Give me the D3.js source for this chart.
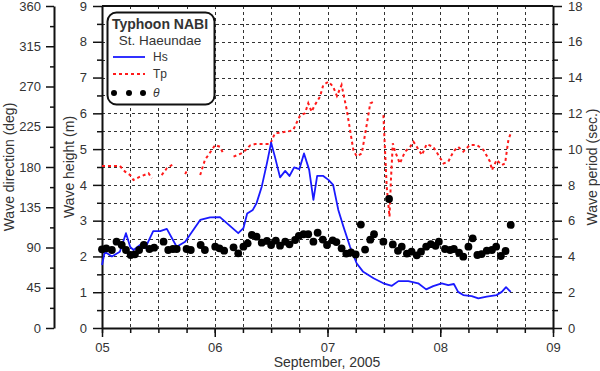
<!DOCTYPE html>
<html>
<head>
<meta charset="utf-8">
<script src="https://cdn.jsdelivr.net/npm/d3@7"></script>
<style>
  body { margin: 0; background: #fff; }
  text { font-family: "Liberation Sans", Arial, sans-serif; fill: #333; }
</style>
</head>
<body>
<script>
// hours after 2005-09-05 00:00
const hsHours = [0, 0.6, 2.1, 3.8, 5.1, 6, 6.7, 8.1, 9.2, 10.9, 12.4, 13.8, 15.9, 17.7, 20.9, 23, 25.1, 29, 30.1, 30.9,
  32.1, 32.9, 34, 35.1, 36, 36.8, 37.9, 39, 39.9, 40.9, 42, 43, 44.1, 45, 45.8, 47.1, 48.2, 49.2, 50.3, 51.4,
  52.8, 54.2, 55.6, 57.8, 59.9, 61.7, 63.1, 65.2, 67.3, 69, 70.5, 72.3, 73.7, 74.9, 75.8, 76.9, 78.7, 80.1, 81.9, 84,
  85.1, 86, 87];
const hsValues = [1.76, 2.13, 2.0, 2.13, 2.65, 2.27, 2.18, 2.32, 2.23, 2.71, 2.71, 2.77, 2.27, 2.41, 3.02, 3.09, 3.1, 2.65, 2.79, 3.2,
  3.3, 3.49, 3.95, 4.6, 5.18, 4.79, 4.21, 4.39, 4.25, 4.49, 4.44, 4.88, 4.42, 3.58, 4.25, 4.25, 4.14, 4.0, 3.3, 2.83,
  2.27, 1.81, 1.57, 1.39, 1.25, 1.18, 1.31, 1.31, 1.25, 1.08, 1.17, 1.25, 1.2, 1.23, 1.01, 0.92, 0.89, 0.83, 0.88, 0.92,
  1.01, 1.14, 1.01];

// null = missing record (gap in the dotted line)
const tpHours = [0, 3.8, 4.9, 6, 6.7, 8.1, 9.9, 10.6, 11.5, 12.7, 13.8, 15.1, 16.3, 17.7, 18.2, 19.5, 20.9, 21.9, 24.1, 25.1,
  25.8, 26.9, 28, 30, 31.5, 32.6, 35.8, 36.8, 40, 40.7, 42.2, 43.2, 43.9, 44.6, 45.3, 46.4, 47.1, 48.2, 49.2, 50,
  51, 52.1, 53.5, 54.2, 55.3, 56.4, 57.1, 57.8, 58.8, 59.9, 60.6, 61.2, 61.5, 61.9, 62.4, 63.4, 64.5, 65.6, 66.3, 67,
  68.1, 69.1, 70.5, 71.6, 72.7, 73.7, 74.8, 75.8, 76.9, 78.3, 79.8, 81.2, 82.6, 83, 84, 85.1, 85.8, 86.5, 87];
const tpValues = [9.06, 9.06, 8.74, 8.55, 8.27, 8.46, 8.65, 8.37, null, 8.55, 8.93, 9.15, null, 8.6, 8.85, null, 8.55, 9.39, 10.23, 10.13,
  9.76, null, 9.58, 9.8, 10.2, 10.28, 10.28, 10.88, 11.01, 11.07, 11.9, 12.0, 12.56, 12.09, 12.46, 12.93, 13.58, 13.77, 13.49, 12.97,
  13.58, 12.19, 9.95, 9.6, 9.76, 11.44, 12.56, 12.65, null, 11.9, 7.9, 6.22, 8.27, 10.32, 9.86, 9.2, 9.86, 10.13, 10.41, 10.13,
  9.67, 10.28, 10.13, 9.67, 9.2, 9.3, 9.86, 10.13, 9.86, 10.23, 10.23, 9.95, 9.3, 8.83, 9.39, 9.11, 9.2, 10.51, 10.88];

const dirHours = [0, 0.9, 2.1, 3.1, 4.2, 5.1, 6.1, 7, 7.9, 8.9, 10.1, 11.1, 13.1, 14.1, 15.1, 15.9, 18, 18.9, 21, 21.9,
  24.1, 25, 26, 28, 29, 30.1, 31, 31.9, 32.9, 34, 35.1, 36, 37, 37.9, 39, 39.9, 41.1, 41.9, 42.9, 43.9,
  45, 45.9, 47, 47.9, 49.1, 49.9, 51, 52, 53, 54, 55.1, 56, 57.1, 57.9, 59.9, 61.1, 61.9, 63, 63.8, 64.9,
  65.9, 67, 67.9, 69, 70, 71, 71.7, 73, 74.1, 74.9, 76, 76.9, 78, 78.9, 79.9, 80.8, 81.9, 83, 83.9, 84.9,
  85.9, 87];
const dirValues = [88, 89.1, 87.2, 96.5, 92.8, 87.2, 81.6, 82.4, 87.2, 92.8, 88.3, 89.8, 96.5, 87.2, 88.3, 88.3, 88.3, 87.2, 92.8, 87.2,
  90.9, 89.1, 86.4, 90.2, 83.5, 90.9, 94.7, 104, 102.1, 95.4, 97.3, 92.8, 97.6, 92, 96.5, 93.6, 98.4, 102.9, 104.8, 104.8,
  96.5, 106.5, 98.9, 92.8, 98, 96.1, 89.1, 83.1, 84.4, 82.2, 115.6, 87.7, 98.8, 104.8, 96.5, 144.2, 93.4, 86.3, 90.9, 83.1,
  85.3, 81.3, 85.3, 90.9, 93.7, 91.9, 96.5, 88.3, 87.2, 88.3, 84.2, 79.7, 90.9, 100.3, 81.6, 82.7, 86.4, 87.2, 90.9, 80.5,
  86.1, 115.2];

const dirTicks = d3.range(0, 361, 45);
const hsTicks = d3.range(0, 10, 1);
const tpTicks = d3.range(0, 19, 2);
const legendTitle = ['Typhoon NABI', 'St. Haeundae'];
const legendNames = ['Hs', 'Tp', 'θ'];

const width = 600;
const height = 371;
const m = { left: 102, right: 553, top: 6, bottom: 328 };
const t0 = new Date(2005, 8, 5);
const toDate = (h) => d3.timeMinute.offset(t0, Math.round(h * 60));

const x = d3.scaleTime().domain([t0, new Date(2005, 8, 9)]).range([m.left, m.right]);
const yH = d3.scaleLinear().domain([0, 9]).range([m.bottom, m.top]);
const yT = d3.scaleLinear().domain([0, 18]).range([m.bottom, m.top]);
const yD = d3.scaleLinear().domain([0, 360]).range([m.bottom, m.top]);

const svg = d3.select('body').append('svg').attr('width', width).attr('height', height);

// grid
const grid = svg.append('g').attr('stroke', '#333').attr('stroke-width', 1).attr('stroke-dasharray', '3,3');
grid.selectAll('.gh').data(d3.range(0.5, 9, 0.5)).enter().append('line')
  .attr('x1', m.left).attr('x2', m.right)
  .attr('y1', (d) => Math.round(yH(d)) + 0.5).attr('y2', (d) => Math.round(yH(d)) + 0.5);
grid.selectAll('.gv').data(d3.timeHour.every(6).range(d3.timeHour.offset(t0, 6), new Date(2005, 8, 9))).enter().append('line')
  .attr('x1', (d) => Math.round(x(d)) + 0.5).attr('x2', (d) => Math.round(x(d)) + 0.5)
  .attr('y1', m.top).attr('y2', m.bottom);

// axes
const styleAxis = (g, fs) => {
  g.select('.domain').attr('stroke', '#111').attr('stroke-width', 2);
  g.selectAll('.tick line').attr('stroke', '#111').attr('stroke-width', 1.5);
  g.selectAll('.tick text').style('font-size', fs + 'px').attr('fill', '#333');
};

const dirAxis = svg.append('g').attr('transform', 'translate(54,0)')
  .call(d3.axisLeft(yD).tickValues(dirTicks).tickSize(8).tickSizeOuter(0).tickPadding(5));
styleAxis(dirAxis, 13);
svg.append('g').attr('transform', 'translate(54,0)')
  .call(d3.axisLeft(yD).tickValues(d3.range(22.5, 360, 45)).tickSize(4).tickFormat(''))
  .call((g) => { g.select('.domain').remove(); styleAxis(g, 13); });

const hsAxis = svg.append('g').attr('transform', `translate(${m.left},0)`)
  .call(d3.axisLeft(yH).tickValues(hsTicks).tickSize(9).tickSizeOuter(0).tickPadding(6));
styleAxis(hsAxis, 13);
svg.append('g').attr('transform', `translate(${m.left},0)`)
  .call(d3.axisLeft(yH).tickValues(d3.range(0.5, 9, 1)).tickSize(5).tickFormat(''))
  .call((g) => { g.select('.domain').remove(); styleAxis(g, 13); });

const tpAxis = svg.append('g').attr('transform', `translate(${m.right},0)`)
  .call(d3.axisRight(yT).tickValues(tpTicks).tickSize(9).tickSizeOuter(0).tickPadding(6));
styleAxis(tpAxis, 13);
svg.append('g').attr('transform', `translate(${m.right},0)`)
  .call(d3.axisRight(yT).tickValues(d3.range(1, 18, 2)).tickSize(5).tickFormat(''))
  .call((g) => { g.select('.domain').remove(); styleAxis(g, 13); });

const xAxis = svg.append('g').attr('transform', `translate(0,${m.bottom})`)
  .call(d3.axisBottom(x).ticks(d3.timeDay.every(1)).tickFormat(d3.timeFormat('%d')).tickSize(9).tickSizeOuter(0).tickPadding(6));
styleAxis(xAxis, 13);
svg.append('g').attr('transform', `translate(0,${m.bottom})`)
  .call(d3.axisBottom(x).ticks(d3.timeHour.every(6)).tickSize(5).tickFormat(''))
  .call((g) => { g.select('.domain').remove(); styleAxis(g, 13); });

svg.append('line').attr('x1', m.left).attr('x2', m.right).attr('y1', m.top).attr('y2', m.top)
  .attr('stroke', '#111').attr('stroke-width', 2);

// axis titles
svg.append('text').attr('transform', 'translate(14,167) rotate(-90)').attr('text-anchor', 'middle')
  .style('font-size', '14px').text('Wave direction (deg)');
svg.append('text').attr('transform', 'translate(74,167) rotate(-90)').attr('text-anchor', 'middle')
  .style('font-size', '14px').text('Wave height (m)');
svg.append('text').attr('transform', 'translate(597,167) rotate(-90)').attr('text-anchor', 'middle')
  .style('font-size', '14px').text('Wave period (sec.)');
svg.append('text').attr('x', 327).attr('y', 367).attr('text-anchor', 'middle')
  .style('font-size', '14px').text('September, 2005');

// series
const hsData = hsHours.map((h, i) => ({ t: toDate(h), v: hsValues[i] }));
const tpData = tpHours.map((h, i) => ({ t: toDate(h), v: tpValues[i] }));
const dirData = dirHours.map((h, i) => ({ t: toDate(h), v: dirValues[i] }));

svg.append('path').datum(tpData)
  .attr('fill', 'none').attr('stroke', '#ff1a1a').attr('stroke-width', 2).attr('stroke-dasharray', '3,3')
  .attr('d', d3.line().defined((d) => d.v != null).x((d) => x(d.t)).y((d) => yT(d.v)));

svg.append('path').datum(hsData)
  .attr('fill', 'none').attr('stroke', '#1a1aff').attr('stroke-width', 1.8).attr('stroke-linejoin', 'round')
  .attr('d', d3.line().x((d) => x(d.t)).y((d) => yH(d.v)));

svg.append('g').selectAll('circle').data(dirData).enter().append('circle')
  .attr('cx', (d) => x(d.t)).attr('cy', (d) => yD(d.v)).attr('r', 3.9).attr('fill', '#000');

// legend
const lg = svg.append('g');
lg.append('rect').attr('x', 107.5).attr('y', 12.5).attr('width', 107).attr('height', 92).attr('rx', 9)
  .attr('fill', '#fff').attr('stroke', '#111').attr('stroke-width', 2);
lg.append('text').attr('x', 160).attr('y', 29).attr('text-anchor', 'middle')
  .style('font-size', '14px').style('font-weight', 'bold').attr('fill', '#111').text(legendTitle[0]);
lg.append('text').attr('x', 160).attr('y', 45).attr('text-anchor', 'middle')
  .style('font-size', '13.5px').text(legendTitle[1]);
lg.append('line').attr('x1', 113).attr('x2', 145).attr('y1', 57).attr('y2', 57)
  .attr('stroke', '#1a1aff').attr('stroke-width', 1.8);
lg.append('line').attr('x1', 113).attr('x2', 145).attr('y1', 74).attr('y2', 74)
  .attr('stroke', '#ff1a1a').attr('stroke-width', 2).attr('stroke-dasharray', '3,3');
lg.selectAll('circle').data([114, 129, 143]).enter().append('circle')
  .attr('cx', (d) => d).attr('cy', 93).attr('r', 3).attr('fill', '#000');
legendNames.forEach((n, i) => {
  lg.append('text').attr('x', 153).attr('y', [61, 78, 97][i])
    .style('font-size', '12px').style('font-style', i === 2 ? 'italic' : 'normal').text(n);
});
</script>
</body>
</html>
